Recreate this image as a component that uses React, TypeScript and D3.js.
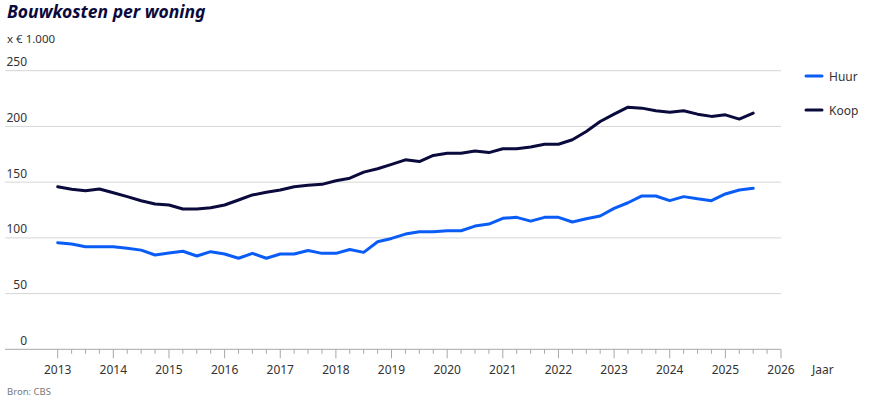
import * as d3 from "d3";

const title = "Bouwkosten per woning";
const unitLabel = "x € 1.000";
const sourceLabel = "Bron: CBS";
const xAxisLabel = "Jaar";

const startYear = 2013;
const yearTicks = d3.range(2013, 2027);
const yTicks = [0, 50, 100, 150, 200, 250];

// quarterly values, 2013 Q1 .. 2025 Q3
const huur = [
  95.7, 94.5, 92, 92, 92, 90.6, 89, 84.6, 86.4, 88, 83.7, 87.6, 85.5, 81.7,
  86.1, 81.7, 85.5, 85.5, 88.6, 86.1, 86.1, 89.6, 87, 96.5, 99.5, 103.4, 105.5,
  105.5, 106.4, 106.4, 110.6, 112.4, 117.5, 118.4, 115, 118.4, 118.4, 114.2,
  117.2, 119.6, 126.5, 131.5, 137.6, 137.6, 133.4, 137, 135, 133.4, 139.4, 143,
  144.5,
];
const koop = [
  145.9, 143.6, 142.3, 143.8, 140.5, 137, 133.3, 130.4, 129.5, 125.9, 125.9,
  127, 129.5, 134, 138.5, 140.9, 143, 145.9, 147.2, 148, 151.2, 153.5, 159, 162,
  166, 170, 168.5, 174, 176, 176, 178, 176.5, 180, 180, 181.5, 184, 184, 188,
  195.4, 204.4, 211, 217.3, 216.4, 214, 212.8, 214, 211, 209, 210.4, 206.6, 212,
];

const seriesNames = ["Huur", "Koop"];
const seriesColors = ["#0a5cf6", "#0b0a3d"];

const W = 875;
const H = 406;
const font = "'Noto Sans', sans-serif";

export default function App() {
  const x = d3.scaleLinear().domain([2013, 2026]).range([57.7, 781]);
  const y = d3.scaleLinear().domain([0, 250]).range([349.3, 70.7]);

  const line = d3
    .line<number>()
    .x((_, i) => x(startYear + i / 4))
    .y((d) => y(d));

  const quarterTicks = d3.range(2013, 2026, 0.25).filter((q) => q % 1 !== 0);
  const series = [huur, koop];

  return (
    <svg
      width={W}
      height={H}
      style={{ position: "absolute", left: 0, top: 0, background: "#fff" }}
      fontFamily={font}
    >
      <text
        x={7}
        y={18}
        fontSize={17.5}
        fontWeight="bold"
        fontStyle="italic"
        fill="#0b0a3d"
      >
        {title}
      </text>
      <text x={7} y={43} fontSize={11.5} fill="#333">
        {unitLabel}
      </text>

      {/* gridlines + y labels */}
      {yTicks.map((t) => (
        <g key={t}>
          <line
            x1={5}
            x2={781}
            y1={y(t)}
            y2={y(t)}
            stroke={t === 0 ? "#a8a8a8" : "#d6d6d6"}
            strokeWidth={1}
          />
          <text
            x={27}
            y={y(t) - 4.5}
            textAnchor="end"
            fontSize={12}
            fill="#333"
          >
            {t}
          </text>
        </g>
      ))}

      {/* x ticks */}
      {quarterTicks.map((q) => (
        <line
          key={q}
          x1={x(q)}
          x2={x(q)}
          y1={y(0)}
          y2={y(0) + 4.5}
          stroke="#a8a8a8"
        />
      ))}
      {yearTicks.map((yr) => (
        <g key={yr}>
          <line
            x1={x(yr)}
            x2={x(yr)}
            y1={y(0)}
            y2={y(0) + 9}
            stroke="#a8a8a8"
          />
          <text
            x={x(yr)}
            y={374}
            textAnchor="middle"
            fontSize={12}
            fill="#333"
          >
            {yr}
          </text>
        </g>
      ))}
      <text x={812} y={374} fontSize={12} fill="#333">
        {xAxisLabel}
      </text>

      {series.map((s, i) => (
        <path
          key={seriesNames[i]}
          d={line(s) || ""}
          fill="none"
          stroke={seriesColors[i]}
          strokeWidth={3}
          strokeLinejoin="round"
          strokeLinecap="round"
        />
      ))}

      {/* legend */}
      {seriesNames.map((n, i) => (
        <g key={n} transform={`translate(806, ${76 + i * 34})`}>
          <line
            x1={0}
            x2={16}
            y1={0}
            y2={0}
            stroke={seriesColors[i]}
            strokeWidth={3}
            strokeLinecap="round"
          />
          <text x={23} y={4.5} fontSize={12} fill="#333">
            {n}
          </text>
        </g>
      ))}

      <text x={7} y={395} fontSize={9.5} fill="#777">
        {sourceLabel}
      </text>
    </svg>
  );
}
